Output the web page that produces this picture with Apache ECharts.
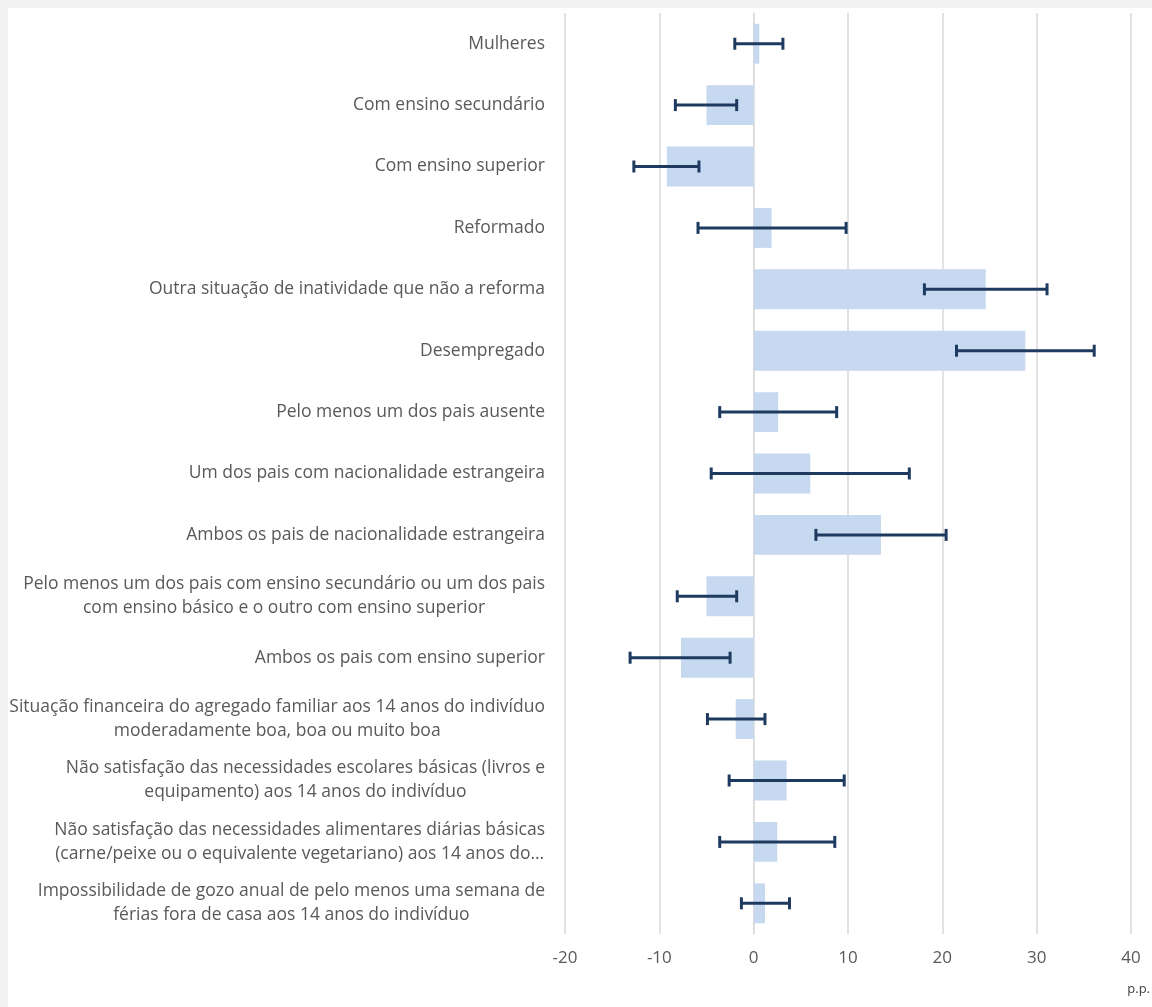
<!DOCTYPE html>
<html>
<head>
<meta charset="utf-8">
<script src="https://cdn.jsdelivr.net/npm/echarts@6/dist/echarts.min.js"></script>
<style>
html,body{margin:0;padding:0;background:#f2f2f2;width:1152px;height:1007px;overflow:hidden;}
#chart{position:absolute;left:8px;top:8px;width:1144px;height:999px;background:#ffffff;}
</style>
</head>
<body>
<div id="chart"></div>
<script>
const categories = [
  "Mulheres",
  "Com ensino secundário",
  "Com ensino superior",
  "Reformado",
  "Outra situação de inatividade que não a reforma",
  "Desempregado",
  "Pelo menos um dos pais ausente",
  "Um dos pais com nacionalidade estrangeira",
  "Ambos os pais de nacionalidade estrangeira",
  "Pelo menos um dos pais com ensino secundário ou um dos pais\ncom ensino básico e o outro com ensino superior",
  "Ambos os pais com ensino superior",
  "Situação financeira do agregado familiar aos 14 anos do indivíduo\nmoderadamente boa, boa ou muito boa",
  "Não satisfação das necessidades escolares básicas (livros e\nequipamento) aos 14 anos do indivíduo",
  "Não satisfação das necessidades alimentares diárias básicas\n(carne/peixe ou o equivalente vegetariano) aos 14 anos do…",
  "Impossibilidade de gozo anual de pelo menos uma semana de\nférias fora de casa aos 14 anos do indivíduo"
];
const values = [0.6, -5.0, -9.2, 1.9, 24.6, 28.8, 2.6, 6.0, 13.5, -5.0, -7.7, -1.9, 3.5, 2.5, 1.2];
const lower  = [-2.0, -8.3, -12.7, -5.9, 18.1, 21.5, -3.6, -4.5, 6.6, -8.1, -13.1, -4.9, -2.6, -3.6, -1.3];
const upper  = [3.1, -1.8, -5.8, 9.8, 31.1, 36.1, 8.8, 16.5, 20.4, -1.8, -2.5, 1.2, 9.6, 8.6, 3.8];
const xTicks = { min: -20, max: 40, interval: 10 };
const unitLabel = "p.p.";

const errData = categories.map((c, i) => [i, lower[i], upper[i]]);

const chart = echarts.init(document.getElementById('chart'), null, { renderer: 'canvas' });
const FONT = '"Open Sans", "Segoe UI", sans-serif';

chart.setOption({
  animation: false,
  backgroundColor: '#ffffff',
  grid: { left: 557, right: 21, top: 5, bottom: 73, containLabel: false, outerBoundsMode: 'none' },
  xAxis: {
    type: 'value',
    min: xTicks.min, max: xTicks.max, interval: xTicks.interval,
    axisLine: { show: false },
    axisTick: { show: false },
    splitLine: { show: true, lineStyle: { color: '#d9d9d9', width: 1.5 } },
    axisLabel: { color: '#595959', fontSize: 17, fontFamily: FONT, margin: 16 }
  },
  yAxis: {
    type: 'category',
    data: categories,
    inverse: true,
    axisLine: { show: true, onZero: true, lineStyle: { color: '#d9d9d9', width: 1 } },
    axisTick: { show: false },
    splitLine: { show: false },
    axisLabel: {
      margin: 20,
      formatter: function (v) {
        return v.split('\n').map(function (l) { return '{c|' + l + '}'; }).join('\n');
      },
      rich: {
        c: { align: 'center', color: '#595959', fontSize: 17.5, fontFamily: FONT, lineHeight: 24 }
      }
    }
  },
  series: [
    {
      type: 'bar',
      data: values,
      barCategoryGap: '35%',
      itemStyle: { color: '#c6d9f0' },
      z: 2
    },
    {
      type: 'custom',
      data: errData,
      z: 5,
      renderItem: function (params, api) {
        const idx = api.value(0);
        const lo = api.coord([api.value(1), idx]);
        const hi = api.coord([api.value(2), idx]);
        const h = 6;
        const style = { stroke: '#1f3a5f', lineWidth: 3, fill: null };
        return {
          type: 'group',
          children: [
            { type: 'line', shape: { x1: lo[0], y1: lo[1], x2: hi[0], y2: hi[1] }, style: style },
            { type: 'line', shape: { x1: lo[0], y1: lo[1] - h, x2: lo[0], y2: lo[1] + h }, style: style },
            { type: 'line', shape: { x1: hi[0], y1: hi[1] - h, x2: hi[0], y2: hi[1] + h }, style: style }
          ]
        };
      },
      encode: { x: [1, 2], y: 0 }
    }
  ],
  graphic: [
    {
      type: 'text',
      right: 2,
      top: 975,
      style: { text: unitLabel, fill: '#404040', fontSize: 13, fontFamily: FONT }
    }
  ]
});
</script>
</body>
</html>
